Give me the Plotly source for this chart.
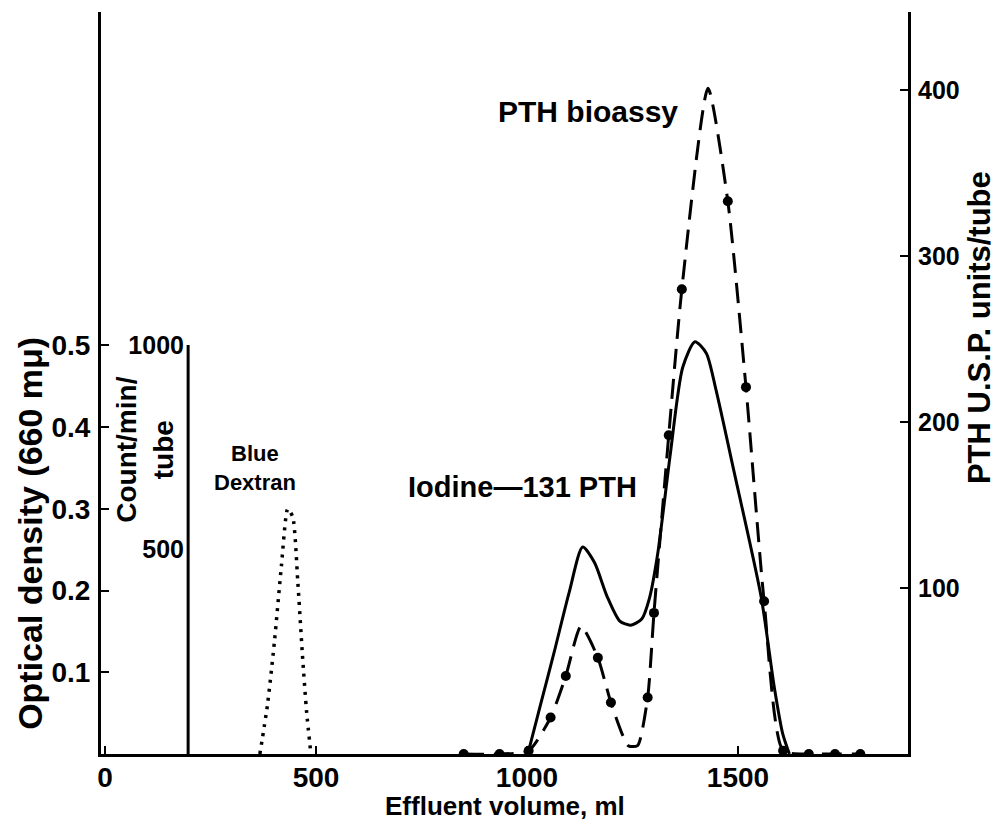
import plotly.graph_objects as go

# Blue Dextran, optical density (660 mu)
dextran_ml = [367, 385, 402, 418, 433, 445, 457, 468, 478, 488]
dextran_od = [0, 0.06, 0.14, 0.23, 0.30, 0.29, 0.21, 0.12, 0.05, 0]

# Iodine-131 PTH, count/min/tube
iodine_ml = [1002, 1032, 1064, 1100, 1132, 1160, 1190, 1220, 1246, 1272, 1290, 1310, 1340, 1369, 1398, 1425, 1448, 1490, 1555, 1586, 1606, 1622]
iodine_cpm = [0, 120, 247, 395, 506, 468, 385, 325, 315, 330, 380, 491, 736, 945, 1008, 980, 890, 694, 384, 164, 50, 0]

# PTH bioassay, U.S.P. units/tube
pth_ml = [850, 935, 1004, 1056, 1092, 1128, 1168, 1199, 1240, 1262, 1286, 1301, 1336, 1367, 1429, 1476, 1519, 1562, 1607, 1668, 1730, 1790]
pth_units = [0, 0, 2, 22, 47, 77, 58, 31, 5, 5, 34, 85, 192, 280, 401, 333, 221, 92, 2, 0, 0, 0]
pth_dot = [1, 1, 1, 1, 1, 0, 1, 1, 0, 0, 1, 1, 1, 1, 0, 1, 1, 1, 1, 1, 1, 1]

x_ticks = [0, 500, 1000, 1500]
od_ticks = [0.1, 0.2, 0.3, 0.4, 0.5]
cpm_ticks = [500, 1000]
unit_ticks = [100, 200, 300, 400]

FONT = "Liberation Sans"
ink = "black"


def bold(size):
    return dict(family=FONT, size=size, color=ink, weight="bold")


fig = go.Figure()

fig.add_trace(go.Scatter(x=dextran_ml, y=dextran_od, mode="lines", yaxis="y",
                         line=dict(color=ink, width=3.5, dash="3px,6px", shape="spline", smoothing=0.6)))
fig.add_trace(go.Scatter(x=iodine_ml, y=iodine_cpm, mode="lines", yaxis="y3",
                         line=dict(color=ink, width=3, shape="spline", smoothing=0.7)))
fig.add_trace(go.Scatter(x=pth_ml, y=pth_units, mode="lines+markers", yaxis="y2",
                         line=dict(color=ink, width=3, dash="20px,10px", shape="spline", smoothing=0.6),
                         marker=dict(color=ink, opacity=1, size=[10 * d for d in pth_dot],
                                     line=dict(width=0))))

# the page body adds 8px on the left and top, margins allow for it
fig.update_layout(
    template="none",
    width=1001, height=837,
    margin=dict(l=93, r=101, t=4, b=91),
    paper_bgcolor="white", plot_bgcolor="white",
    showlegend=False,
    xaxis=dict(range=[-9.5, 1903], tickvals=x_ticks, ticks="inside", ticklen=8, tickwidth=2,
               tickcolor=ink, showline=True, linewidth=3, linecolor=ink, showgrid=False,
               zeroline=False, tickfont=bold(28), ticklabelstandoff=-4, automargin=False),
    yaxis=dict(range=[0, 0.908], tickvals=od_ticks, ticktext=[str(v) for v in od_ticks],
               ticks="inside", ticklen=8, tickwidth=2, tickcolor=ink, showline=True,
               linewidth=3, linecolor=ink, showgrid=False, zeroline=False, tickfont=bold(28),
               ticklabelstandoff=2, automargin=False),
    yaxis2=dict(range=[0, 447], tickvals=unit_ticks, overlaying="y", side="right", anchor="x",
                ticks="inside", ticklen=8, tickwidth=2, tickcolor=ink, showline=True,
                linewidth=3, linecolor=ink, showgrid=False, zeroline=False, tickfont=bold(25),
                ticklabelstandoff=2, automargin=False),
    yaxis3=dict(range=[0, 1814], tickvals=cpm_ticks, overlaying="y", side="left", anchor="free",
                position=0.1078, ticks="", showline=False, showgrid=False, zeroline=False,
                tickfont=bold(25), ticklabelstandoff=4, automargin=False),
)

# inner count axis line
fig.add_shape(type="line", xref="x", yref="y3", x0=197, x1=197, y0=0, y1=1000,
              line=dict(color=ink, width=3))

notes = [
    ("Effluent volume, ml", "paper", "paper", 0.5, -0.07, 0, 26),
    ("Optical density (660 m\u03bc)", "paper", "paper", -0.088, 0.298, -90, 34),
    ("Count/min/<br>tube", "paper", "paper", 0.0545, 0.41, -90, 28),
    ("PTH U.S.P. units/tube", "paper", "paper", 1.088, 0.574, -90, 31),
    ("Blue<br>Dextran", "x", "y", 356, 0.35, 0, 22),
    ("Iodine\u2014131 PTH", "x", "y", 990, 0.327, 0, 29),
    ("PTH bioassy", "x", "paper", 1144, 0.866, 0, 30),
]
for text, xr, yr, x, y, ang, size in notes:
    fig.add_annotation(text=text, xref=xr, yref=yr, x=x, y=y, textangle=ang,
                       xanchor="center", yanchor="middle", showarrow=False, font=bold(size))

fig.write_html("out.html")
